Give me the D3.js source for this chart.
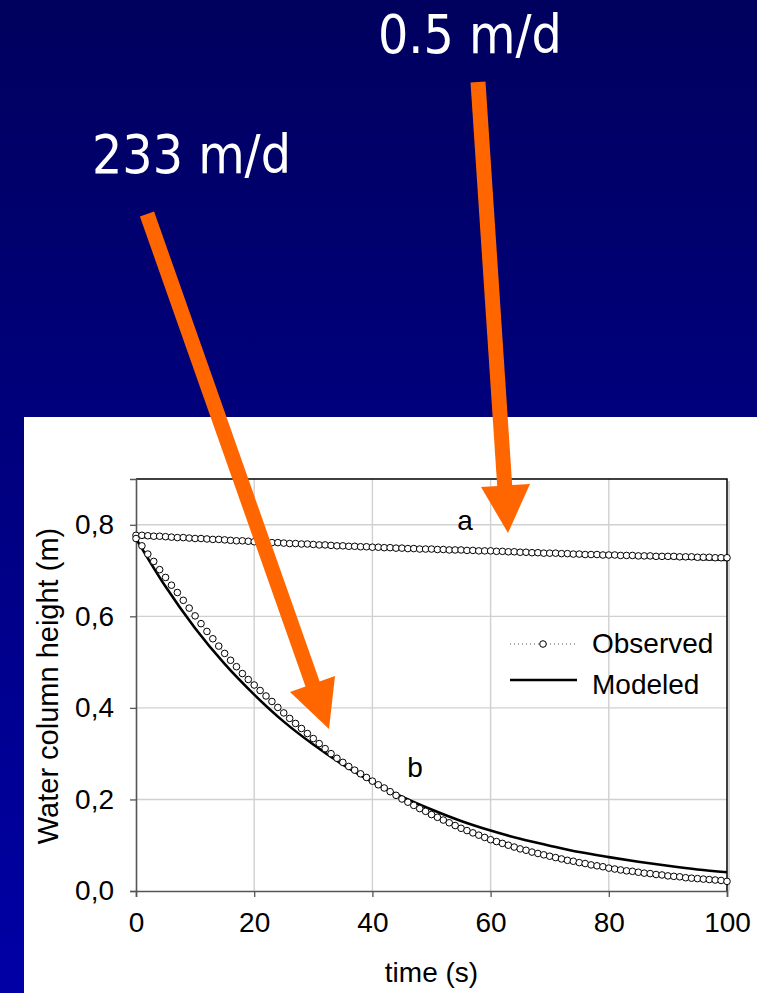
<!DOCTYPE html>
<html>
<head>
<meta charset="utf-8">
<script src="https://d3js.org/d3.v7.min.js"></script>
<style>
  body { margin: 0; overflow: hidden; }
  svg { display: block; }
  text { font-family: "Liberation Sans", Arial, sans-serif; }
</style>
</head>
<body>
<script>
// observed water column heights, one reading per second (t = 0..100)
var time = d3.range(0, 101);
var obsA = [
  .777, .777, .776, .775, .775, .774, .773, .772, .772, .771,
  .770, .770, .769, .768, .768, .767, .766, .765, .765, .764,
  .763, .763, .762, .761, .761, .760, .759, .759, .758, .758,
  .757, .756, .756, .755, .754, .754, .753, .753, .752, .752,
  .751, .751, .750, .750, .749, .749, .748, .748, .747, .747,
  .747, .746, .746, .745, .745, .745, .744, .744, .743, .743,
  .743, .742, .742, .741, .741, .740, .740, .739, .739, .738,
  .738, .738, .737, .737, .736, .736, .735, .735, .735, .734,
  .734, .734, .733, .733, .733, .732, .732, .732, .731, .731,
  .731, .731, .730, .730, .730, .729, .729, .729, .728, .728, .728
];
var obsB = [
  .770, .754, .736, .720, .702, .685, .668, .652, .635, .618,
  .601, .584, .567, .551, .535, .519, .504, .490, .475, .462,
  .450, .438, .426, .414, .401, .389, .377, .366, .355, .344,
  .333, .322, .311, .300, .290, .281, .272, .264, .256, .248,
  .240, .232, .225, .217, .209, .201, .194, .187, .180, .174,
  .167, .161, .155, .149, .143, .137, .132, .127, .122, .117,
  .112, .108, .104, .100, .096, .092, .089, .085, .082, .079,
  .076, .073, .070, .067, .065, .062, .060, .057, .055, .053,
  .050, .048, .046, .044, .043, .041, .039, .038, .036, .035,
  .033, .032, .031, .029, .028, .027, .026, .025, .024, .023, .021
];

// modeled curves
var modA_t = [0, 10, 20, 30, 40, 50, 60, 70, 80, 90, 100];
var modA = [.774, .769, .764, .758, .753, .748, .743, .738, .733, .728, .723];
var modB_t = [0, 5, 10, 15, 20, 25, 30, 35, 40, 45, 50, 55, 60, 65, 70, 75, 80, 85, 90, 95, 100];
var modB = [.770, .665, .574, .496, .429, .370, .320, .276, .238, .206, .178,
            .153, .132, .114, .099, .085, .074, .064, .055, .047, .041];

var xTicks = [0, 20, 40, 60, 80, 100];
var yTicks = [0, 0.2, 0.4, 0.6, 0.8];

var W = 757, H = 993;
var plot = {left: 136, right: 727, top: 479, bottom: 891};

var svg = d3.select("body").append("svg")
  .attr("width", W)
  .attr("height", H);

var defs = svg.append("defs");
var grad = defs.append("linearGradient")
  .attr("id", "bg").attr("x1", 0).attr("y1", 0).attr("x2", 0).attr("y2", 1);
grad.append("stop").attr("offset", "0%").attr("stop-color", "#00005e");
grad.append("stop").attr("offset", "100%").attr("stop-color", "#0000a6");

svg.append("rect").attr("width", W).attr("height", H).attr("fill", "url(#bg)");
svg.append("rect").attr("x", 24).attr("y", 417).attr("width", W - 24).attr("height", H - 417)
  .attr("fill", "#fff");

var x = d3.scaleLinear().domain([0, 100]).range([plot.left, plot.right]);
var y = d3.scaleLinear().domain([0, 0.9]).range([plot.bottom, plot.top]);

// grid
svg.append("g").selectAll("line").data(xTicks.slice(1, -1)).enter().append("line")
  .attr("x1", d => x(d)).attr("x2", d => x(d))
  .attr("y1", plot.top).attr("y2", plot.bottom)
  .attr("stroke", "#d0d0d0").attr("stroke-width", 1.4);
svg.append("g").selectAll("line").data(yTicks.slice(1)).enter().append("line")
  .attr("x1", plot.left).attr("x2", plot.right)
  .attr("y1", d => y(d)).attr("y2", d => y(d))
  .attr("stroke", "#d0d0d0").attr("stroke-width", 1.4);

// frame top / right
svg.append("line").attr("x1", plot.right + 2).attr("x2", plot.right + 2)
  .attr("y1", plot.top + 2).attr("y2", plot.bottom)
  .attr("stroke", "#c8c8c8").attr("stroke-width", 1.5);
svg.append("path")
  .attr("d", "M" + plot.left + "," + plot.top + "H" + plot.right + "V" + plot.bottom)
  .attr("fill", "none").attr("stroke", "#000").attr("stroke-width", 1.5);

// axes
var xAxis = svg.append("g")
  .attr("transform", "translate(0," + plot.bottom + ")")
  .call(d3.axisBottom(x).tickValues(xTicks).tickSize(6).tickPadding(15));
var yAxis = svg.append("g")
  .attr("transform", "translate(" + plot.left + ",0)")
  .call(d3.axisLeft(y).tickValues(yTicks).tickSize(6).tickPadding(16)
    .tickFormat(d => d3.format(".1f")(d).replace(".", ",")));
[xAxis, yAxis].forEach(function(g) {
  g.select(".domain").attr("stroke", "#555").attr("stroke-width", 1.6);
  g.selectAll(".tick line").attr("stroke", "#555").attr("stroke-width", 1.3);
  g.selectAll(".tick text").attr("fill", "#000").style("font-size", "28px")
    .style("font-family", "'Liberation Sans', Arial, sans-serif");
});

svg.append("text")
  .attr("x", x(50)).attr("y", 982)
  .attr("text-anchor", "middle")
  .style("font-size", "28px")
  .text("time (s)");
svg.append("text")
  .attr("transform", "translate(58," + 686 + ") rotate(-90)")
  .attr("text-anchor", "middle")
  .style("font-size", "29px")
  .text("Water column height (m)");

// series
var lineObs = d3.line().x((d, i) => x(time[i])).y(d => y(d));
var lineModA = d3.line().x((d, i) => x(modA_t[i])).y(d => y(d)).curve(d3.curveMonotoneX);
var lineModB = d3.line().x((d, i) => x(modB_t[i])).y(d => y(d)).curve(d3.curveMonotoneX);

[obsA, obsB].forEach(function(s) {
  svg.append("path").datum(s).attr("d", lineObs)
    .attr("fill", "none").attr("stroke", "#666").attr("stroke-width", 1)
    .attr("stroke-dasharray", "1,3");
});
svg.append("path").datum(modA).attr("d", lineModA)
  .attr("fill", "none").attr("stroke", "#000").attr("stroke-width", 2.6);
svg.append("path").datum(modB).attr("d", lineModB)
  .attr("fill", "none").attr("stroke", "#000").attr("stroke-width", 2.6);

[obsA, obsB].forEach(function(s) {
  svg.append("g").selectAll("circle").data(s).enter().append("circle")
    .attr("cx", (d, i) => x(time[i])).attr("cy", d => y(d))
    .attr("r", 3.3)
    .attr("fill", "#fff").attr("stroke", "#000").attr("stroke-width", 1);
});

svg.append("text").attr("x", 465).attr("y", 530).attr("text-anchor", "middle")
  .style("font-size", "28px").text("a");
svg.append("text").attr("x", 415).attr("y", 777).attr("text-anchor", "middle")
  .style("font-size", "28px").text("b");

// legend
var leg = svg.append("g");
leg.append("line").attr("x1", 510).attr("x2", 577).attr("y1", 644).attr("y2", 644)
  .attr("stroke", "#555").attr("stroke-width", 1).attr("stroke-dasharray", "1,3");
leg.append("circle").attr("cx", 543).attr("cy", 644).attr("r", 3.3)
  .attr("fill", "#fff").attr("stroke", "#000").attr("stroke-width", 1);
leg.append("text").attr("x", 592).attr("y", 653).style("font-size", "28px").text("Observed");
leg.append("line").attr("x1", 510).attr("x2", 577).attr("y1", 680).attr("y2", 680)
  .attr("stroke", "#000").attr("stroke-width", 2.6);
leg.append("text").attr("x", 592).attr("y", 694).style("font-size", "28px").text("Modeled");

// annotations
var hdr = "'DejaVu Sans Condensed', 'DejaVu Sans', sans-serif";
svg.append("text").attr("x", 378).attr("y", 53).attr("fill", "#fff")
  .style("font-family", hdr).style("font-size", "53px").text("0.5 m/d");
svg.append("text").attr("x", 92).attr("y", 173).attr("fill", "#fff")
  .style("font-family", hdr).style("font-size", "53px").text("233 m/d");

var orange = "#ff6600";
svg.append("line").attr("x1", 478).attr("y1", 82).attr("x2", 505).attr("y2", 490)
  .attr("stroke", orange).attr("stroke-width", 15);
svg.append("polygon").attr("points", "481,487 530,484 508,533").attr("fill", orange);
svg.append("line").attr("x1", 147).attr("y1", 214).attr("x2", 314).attr("y2", 688)
  .attr("stroke", orange).attr("stroke-width", 15);
svg.append("polygon").attr("points", "290,692 335,676 329,729").attr("fill", orange);
</script>
</body>
</html>
